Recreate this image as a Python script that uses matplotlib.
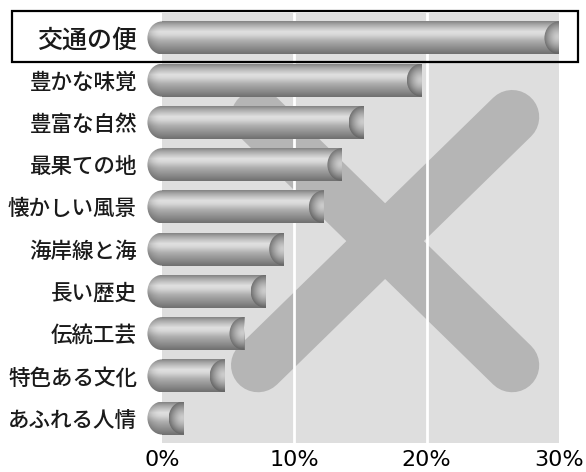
import numpy as np
import matplotlib.pyplot as plt
from matplotlib.patches import Ellipse, Rectangle
from matplotlib.lines import Line2D

plt.rcParams['font.family'] = ['Noto Sans CJK JP', 'DejaVu Sans']

# survey answers, top to bottom (percent)
labels = ['交通の便', '豊かな味覚', '豊富な自然', '最果ての地', '懐かしい風景',
          '海岸線と海', '長い歴史', '伝統工芸', '特色ある文化', 'あふれる人情']
values = [30.0, 19.6, 15.2, 13.6, 12.2, 9.2, 7.8, 6.2, 4.7, 1.6]
xticks = [0, 10, 20, 30]
xtick_labels = ['0%', '10%', '20%', '30%']

W, H = 586, 472
fig = plt.figure(figsize=(W / 100, H / 100), dpi=100)
ax = fig.add_axes([162 / W, 1 - 443 / H, 397 / W, 430 / H])
ax.set_facecolor('#dedede')

bar_h = 0.78      # bar thickness in row units
rx = 1.1          # half-width of the cylinder end caps (data units)

# vertical shading of a cylinder (0 = top edge, 1 = bottom edge)
t = np.linspace(0, 1, 64)
prof = np.interp(t, [0.0, 0.12, 0.32, 0.42, 0.6, 0.8, 1.0],
                    [0.52, 0.68, 0.88, 0.84, 0.68, 0.56, 0.44])


def draw_cylinder(y, val):
    top, bot = y - bar_h / 2, y + bar_h / 2

    # body
    body = np.tile(prof[:, None], (1, 2))
    im = ax.imshow(body, cmap='gray', vmin=0, vmax=1, aspect='auto',
                   extent=(0, val, bot, top), origin='upper',
                   interpolation='bilinear', zorder=3)
    im.set_clip_path(Rectangle((0, top), val, bar_h, transform=ax.transData))

    # rounded left end, slightly darker toward the outer edge
    xs = np.linspace(-1, 0, 40)
    cap = prof[:, None] * (1 - 0.22 * xs[None, :] ** 2)
    im = ax.imshow(cap, cmap='gray', vmin=0, vmax=1, aspect='auto',
                   extent=(-rx, 0, bot, top), origin='upper',
                   interpolation='bilinear', zorder=3)
    im.set_clip_box(fig.bbox)
    im.set_clip_path(Ellipse((0, y), 2 * rx, bar_h, transform=ax.transData))

    # open right end seen from the front
    gx, gy = np.meshgrid(np.linspace(-1, 0, 40), np.linspace(-1, 1, 64))
    r = np.sqrt((gx + 0.1) ** 2 + (gy + 0.05) ** 2)
    face = 0.80 - 0.40 * np.clip(r, 0, 1) ** 1.5
    im = ax.imshow(face, cmap='gray', vmin=0, vmax=1, aspect='auto',
                   extent=(val - rx, val, bot, top), origin='upper',
                   interpolation='bilinear', zorder=4)
    im.set_clip_path(Ellipse((val, y), 2 * rx, bar_h, transform=ax.transData))


for i, v in enumerate(values):
    draw_cylinder(i, v)

# big cross behind the bars
for (x0, y0), (x1, y1) in [((0.242, 0.758), (0.882, 0.181)),
                           ((0.882, 0.758), (0.242, 0.181))]:
    ax.add_line(Line2D([x0, x1], [y0, y1], transform=ax.transAxes,
                       color='#b5b5b5', lw=39, solid_capstyle='round', zorder=1))

for g in xticks[1:-1]:
    ax.axvline(g, color='white', lw=2, zorder=2)

ax.set_xlim(0, 30)
ax.set_ylim(len(values) - 1 + 0.59, -0.59)
ax.set_xticks(xticks, xtick_labels)
ax.set_yticks(range(len(labels)), labels)
ax.tick_params(length=0)
ax.tick_params(axis='x', labelsize=16, pad=5)
ax.tick_params(axis='y', labelsize=15.5, pad=18, labelcolor='#1a1a1a')
for lab in ax.get_xticklabels():
    lab.set_family('DejaVu Sans')
for lab in ax.get_yticklabels():
    lab.set_fontweight('medium')
ax.get_yticklabels()[0].set_fontsize(18)
for s in ax.spines.values():
    s.set_visible(False)

# highlight box around the top answer
fig.add_artist(Rectangle((12 / W, 1 - 62 / H), 566 / W, 51 / H,
                         transform=fig.transFigure, fill=False,
                         edgecolor='black', lw=1.6, zorder=10))

fig.savefig('out.png', dpi=100)
